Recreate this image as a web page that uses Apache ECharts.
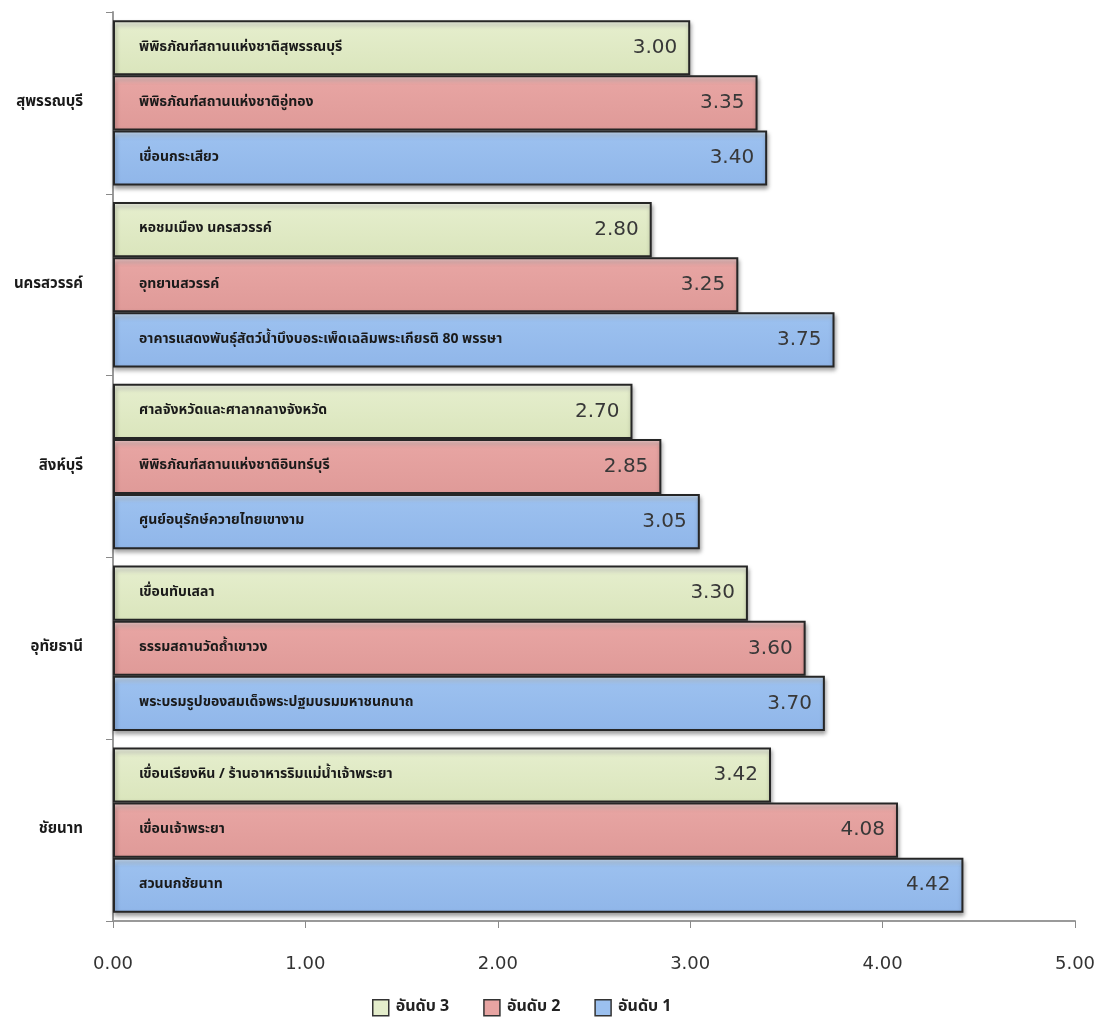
<!DOCTYPE html>
<html>
<head>
<meta charset="utf-8">
<title>แหล่งท่องเที่ยวยอดนิยม</title>
<script src="https://cdn.jsdelivr.net/npm/echarts@6/dist/echarts.min.js"></script>
<style>
  html, body { margin: 0; padding: 0; background: #fff; }
  #chart { width: 1105px; height: 1025px; }
</style>
</head>
<body>
<div id="chart"></div>
<script>
// Provinces, top to bottom
const provinces = ['สุพรรณบุรี', 'นครสวรรค์', 'สิงห์บุรี', 'อุทัยธานี', 'ชัยนาท'];

// Rank labels for the legend
const rankNames = ['อันดับ 3', 'อันดับ 2', 'อันดับ 1'];

// Places per rank, one per province
const rank3Places = [
  'พิพิธภัณฑ์สถานแห่งชาติสุพรรณบุรี',
  'หอชมเมือง นครสวรรค์',
  'ศาลจังหวัดและศาลากลางจังหวัด',
  'เขื่อนทับเสลา',
  'เขื่อนเรียงหิน / ร้านอาหารริมแม่น้ำเจ้าพระยา'
];
const rank2Places = [
  'พิพิธภัณฑ์สถานแห่งชาติอู่ทอง',
  'อุทยานสวรรค์',
  'พิพิธภัณฑ์สถานแห่งชาติอินทร์บุรี',
  'ธรรมสถานวัดถ้ำเขาวง',
  'เขื่อนเจ้าพระยา'
];
const rank1Places = [
  'เขื่อนกระเสียว',
  'อาคารแสดงพันธุ์สัตว์น้ำบึงบอระเพ็ดเฉลิมพระเกียรติ 80 พรรษา',
  'ศูนย์อนุรักษ์ควายไทยเขางาม',
  'พระบรมรูปของสมเด็จพระปฐมบรมมหาชนกนาถ',
  'สวนนกชัยนาท'
];

// Mean scores per rank
const rank3Values = [3.00, 2.80, 2.70, 3.30, 3.42];
const rank2Values = [3.35, 3.25, 2.85, 3.60, 4.08];
const rank1Values = [3.40, 3.75, 3.05, 3.70, 4.42];

// Score axis
const axisMin = 0;
const axisMax = 5;
const axisStep = 1;

const thaiFont = '"Noto Sans Thai", "Noto Sans", "DejaVu Sans", sans-serif';

function barFill(top, mid, bottom) {
  return new echarts.graphic.LinearGradient(0, 0, 0, 1, [
    { offset: 0, color: top },
    { offset: 0.16, color: mid },
    { offset: 1, color: bottom }
  ]);
}

const palettes = [
  { fill: barFill('#f8fbef', '#e4edcb', '#dae5bc'), icon: '#e4edcb' },
  { fill: barFill('#f6d4d3', '#e7a4a2', '#df9a98'), icon: '#e7a4a2' },
  { fill: barFill('#d4e8fc', '#9bc0ef', '#90b6e9'), icon: '#9bc0ef' }
];

const ranks = [
  { name: rankNames[0], places: rank3Places, values: rank3Values, pal: palettes[0] },
  { name: rankNames[1], places: rank2Places, values: rank2Values, pal: palettes[1] },
  { name: rankNames[2], places: rank1Places, values: rank1Values, pal: palettes[2] }
];

const series = [];
ranks.forEach(function (r, idx) {
  const stackId = 'r' + idx;
  // visible bar with the place name at its start
  series.push({
    name: r.name,
    type: 'bar',
    stack: stackId,
    data: r.values.map(function (v, i) { return { value: v, place: r.places[i] }; }),
    itemStyle: {
      color: r.pal.fill,
      borderColor: '#262626',
      borderWidth: 2,
      shadowColor: 'rgba(0,0,0,0.35)',
      shadowBlur: 4,
      shadowOffsetY: 3,
      shadowOffsetX: 1
    },
    label: {
      show: true,
      position: 'insideLeft',
      distance: 26,
      formatter: function (p) { return p.data.place; },
      color: '#1a1a1a',
      fontFamily: thaiFont,
      fontWeight: 'bold',
      fontSize: 14
    },
    barCategoryGap: '9%',
    barGap: '0%'
  });
  // zero-length cap carrying the score at the bar end
  series.push({
    name: r.name + ' ค่า',
    type: 'bar',
    stack: stackId,
    data: r.values.map(function (v) { return { value: 0, score: v }; }),
    itemStyle: { color: 'rgba(0,0,0,0)', borderWidth: 0 },
    label: {
      show: true,
      position: 'left',
      distance: 13,
      formatter: function (p) { return p.data.score.toFixed(2); },
      color: '#383838',
      fontFamily: '"DejaVu Sans", Verdana, sans-serif',
      fontSize: 20
    },
    silent: true
  });
});

const chart = echarts.init(document.getElementById('chart'), null, { renderer: 'canvas' });
chart.setOption({
  animation: false,
  backgroundColor: '#fff',
  grid: { left: 113, right: 30, top: 12, bottom: 104, containLabel: false },
  legend: {
    data: rankNames.map(function (n, i) {
      return { name: n, itemStyle: { color: palettes[i].icon, borderColor: '#333', borderWidth: 1.5 } };
    }),
    top: 994,
    left: 367,
    itemWidth: 16,
    itemHeight: 16,
    itemGap: 34,
    icon: 'rect',
    textStyle: { fontFamily: thaiFont, fontSize: 16, fontWeight: 'bold', color: '#222', padding: [0, 0, 0, 2] }
  },
  xAxis: {
    type: 'value',
    min: axisMin,
    max: axisMax,
    interval: axisStep,
    splitLine: { show: false },
    axisLine: { show: true, lineStyle: { color: '#9a9a9a', width: 2 } },
    axisTick: { show: true, length: 7, lineStyle: { color: '#8a8a8a' } },
    axisLabel: {
      margin: 34,
      formatter: function (v) { return v.toFixed(2); },
      color: '#333',
      fontFamily: '"DejaVu Sans", Verdana, sans-serif',
      fontSize: 18
    }
  },
  yAxis: {
    type: 'category',
    data: provinces,
    inverse: true,
    axisLine: { show: true, lineStyle: { color: '#9a9a9a', width: 2 } },
    axisTick: { show: true, length: 7, lineStyle: { color: '#8a8a8a' } },
    axisLabel: {
      margin: 30,
      color: '#1a1a1a',
      fontFamily: thaiFont,
      fontWeight: 'bold',
      fontSize: 15
    }
  },
  series: series
});
</script>
</body>
</html>
